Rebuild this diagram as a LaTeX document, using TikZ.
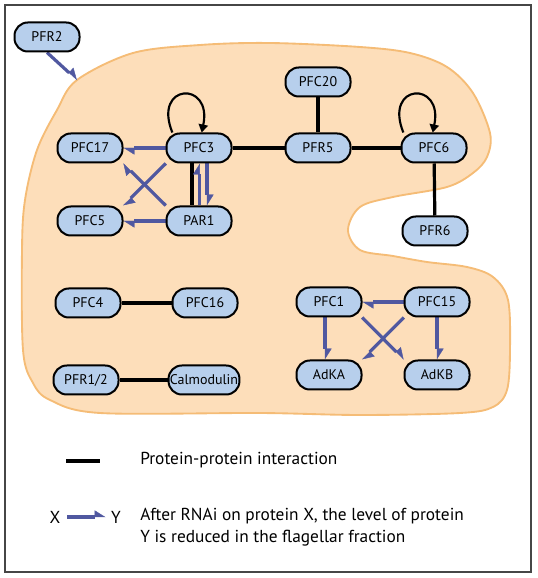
\documentclass[tikz,border=0pt]{standalone}
\usepackage{fontspec}
\setmainfont{PT Sans}
\usetikzlibrary{arrows.meta}
\definecolor{protfill}{RGB}{183,207,236}
\definecolor{cellfill}{RGB}{253,222,186}
\definecolor{celledge}{RGB}{245,188,118}
\definecolor{knockcol}{RGB}{80,88,160}
\definecolor{framecol}{RGB}{70,70,70}
\pgfdeclarelayer{cell}
\pgfdeclarelayer{links}
\pgfsetlayers{cell,links,main}
\begin{document}
\begin{tikzpicture}[x=0.75pt,y=0.75pt,
   prot/.style={draw,line width=1.5pt,fill=protfill,rounded corners=10pt,minimum width=48.75pt,minimum height=21.75pt,inner xsep=1pt,font=\fontsize{10.5}{12}\selectfont},
   ppi/.style={line width=2.4pt},
   knock/.style={draw=knockcol,line width=2.4pt,-{Triangle[harpoon,length=8pt,width=10pt,line width=0.3pt]}},
   selfloop/.style={line width=1.6pt,-{Triangle[length=6pt,width=7pt]}},
   legtext/.style={anchor=west,align=left,inner sep=0pt,font=\fontsize{13}{16.5}\selectfont}]
   \useasboundingbox (0,0) rectangle (537,578);
   \draw[framecol,line width=1.6pt] (5,6) rectangle (531,573);
   \begin{pgfonlayer}{cell}
   \draw[fill=cellfill,draw=celledge,line width=1.4pt] plot[smooth cycle,tension=0.55] coordinates {(77,498) (133,525) (200,533) (270,535) (360,531) (410,525) (447,511) (473,485) (490,445) (487,421) (473,405) (447,391) (393,381) (360,371) (348,348) (360,328) (393,322) (427,316) (467,311) (493,301) (508,278) (510,228) (507,188) (493,171) (460,165) (360,163) (260,165) (100,165) (50,178) (33,195) (23,228) (22,328) (25,378) (37,428) (57,468)};
   \end{pgfonlayer}
   \node[prot] (pfrtwo) at (47,541) {PFR2};
   \node[prot] (pfcseventeen) at (90,430) {PFC17};
   \node[prot] (pfcthree) at (199,430) {PFC3};
   \node[prot] (pfcfive) at (90,357) {PFC5};
   \node[prot] (parone) at (199,357) {PAR1};
   \node[prot] (pfctwenty) at (318,496) {PFC20};
   \node[prot] (pfrfive) at (318,430) {PFR5};
   \node[prot] (pfcsix) at (434,430) {PFC6};
   \node[prot] (pfrsix) at (435,347) {PFR6};
   \node[prot] (pfcfour) at (88,275) {PFC4};
   \node[prot] (pfcsixteen) at (205,275) {PFC16};
   \node[prot] (pfronetwo) at (86,198) {PFR1/2};
   \node[prot] (calmod) at (204,198) {Calmodulin};
   \node[prot] (pfcone) at (329,276) {PFC1};
   \node[prot] (pfcfifteen) at (437,276) {PFC15};
   \node[prot] (adka) at (329,203) {AdKA};
   \node[prot] (adkb) at (437,203) {AdKB};
   \coordinate (entry) at (77,498);
   \begin{pgfonlayer}{links}
   \draw[ppi] (pfcthree) -- (pfrfive);
   \draw[ppi] (pfrfive) -- (pfctwenty);
   \draw[ppi] (pfrfive) -- (pfcsix);
   \draw[ppi] (pfcsix) -- (pfrsix);
   \draw[ppi] (pfcfour) -- (pfcsixteen);
   \draw[ppi] (pfronetwo) -- (calmod);
   \draw[ppi] ([xshift=-5.25pt]pfcthree.south) -- ([xshift=-5.25pt]parone.north);
   \draw[knock] (pfrtwo.south) -- (entry);
   \draw[knock] (pfcthree.west) -- (pfcseventeen.east);
   \draw[knock] (parone.west) -- (pfcfive.east);
   \draw[knock] (parone.155) -- (pfcseventeen.-25);
   \draw[knock] (pfcthree.205) -- (pfcfive.25);
   \draw[knock] ([xshift=0.5pt]parone.north) -- ([xshift=0.5pt]pfcthree.south);
   \draw[knock] ([xshift=6pt]pfcthree.south) -- ([xshift=6pt]parone.north);
   \draw[knock] (pfcfifteen.west) -- (pfcone.east);
   \draw[knock] ([xshift=-3pt]pfcone.south) -- ([xshift=-3pt]adka.north);
   \draw[knock] (pfcfifteen.south) -- (adkb.north);
   \draw[knock] (pfcone.-25) -- (adkb.155);
   \draw[knock] (pfcfifteen.205) -- (adka.25);
   \draw[selfloop] ([xshift=-20pt]pfcthree.north) .. controls +(112:40pt) and +(78:40pt) .. ([xshift=2pt]pfcthree.north);
   \draw[selfloop] ([xshift=-23pt]pfcsix.north) .. controls +(112:40pt) and +(78:40pt) .. ([xshift=-1pt]pfcsix.north);
   \end{pgfonlayer}
   \coordinate (ppia) at (66,117);
   \coordinate (ppib) at (100,117);
   \draw[ppi] (ppia) -- (ppib);
   \node[legtext] (ppitext) at (140,118) {Protein-protein interaction};
   \node[inner sep=0pt,font=\fontsize{13}{15}\selectfont] (xprot) at (55,61) {X};
   \node[inner sep=0pt,font=\fontsize{13}{15}\selectfont] (yprot) at (116,61) {Y};
   \draw[knock] ([xshift=-1pt]xprot.east) ++(6pt,0) coordinate (xend) (xend) -- ([xshift=-4pt]yprot.west);
   \node[legtext] (knocktext) at (140,51) {After RNAi on protein X, the level of protein\\Y is reduced in the flagellar fraction};
\end{tikzpicture}
\end{document}
